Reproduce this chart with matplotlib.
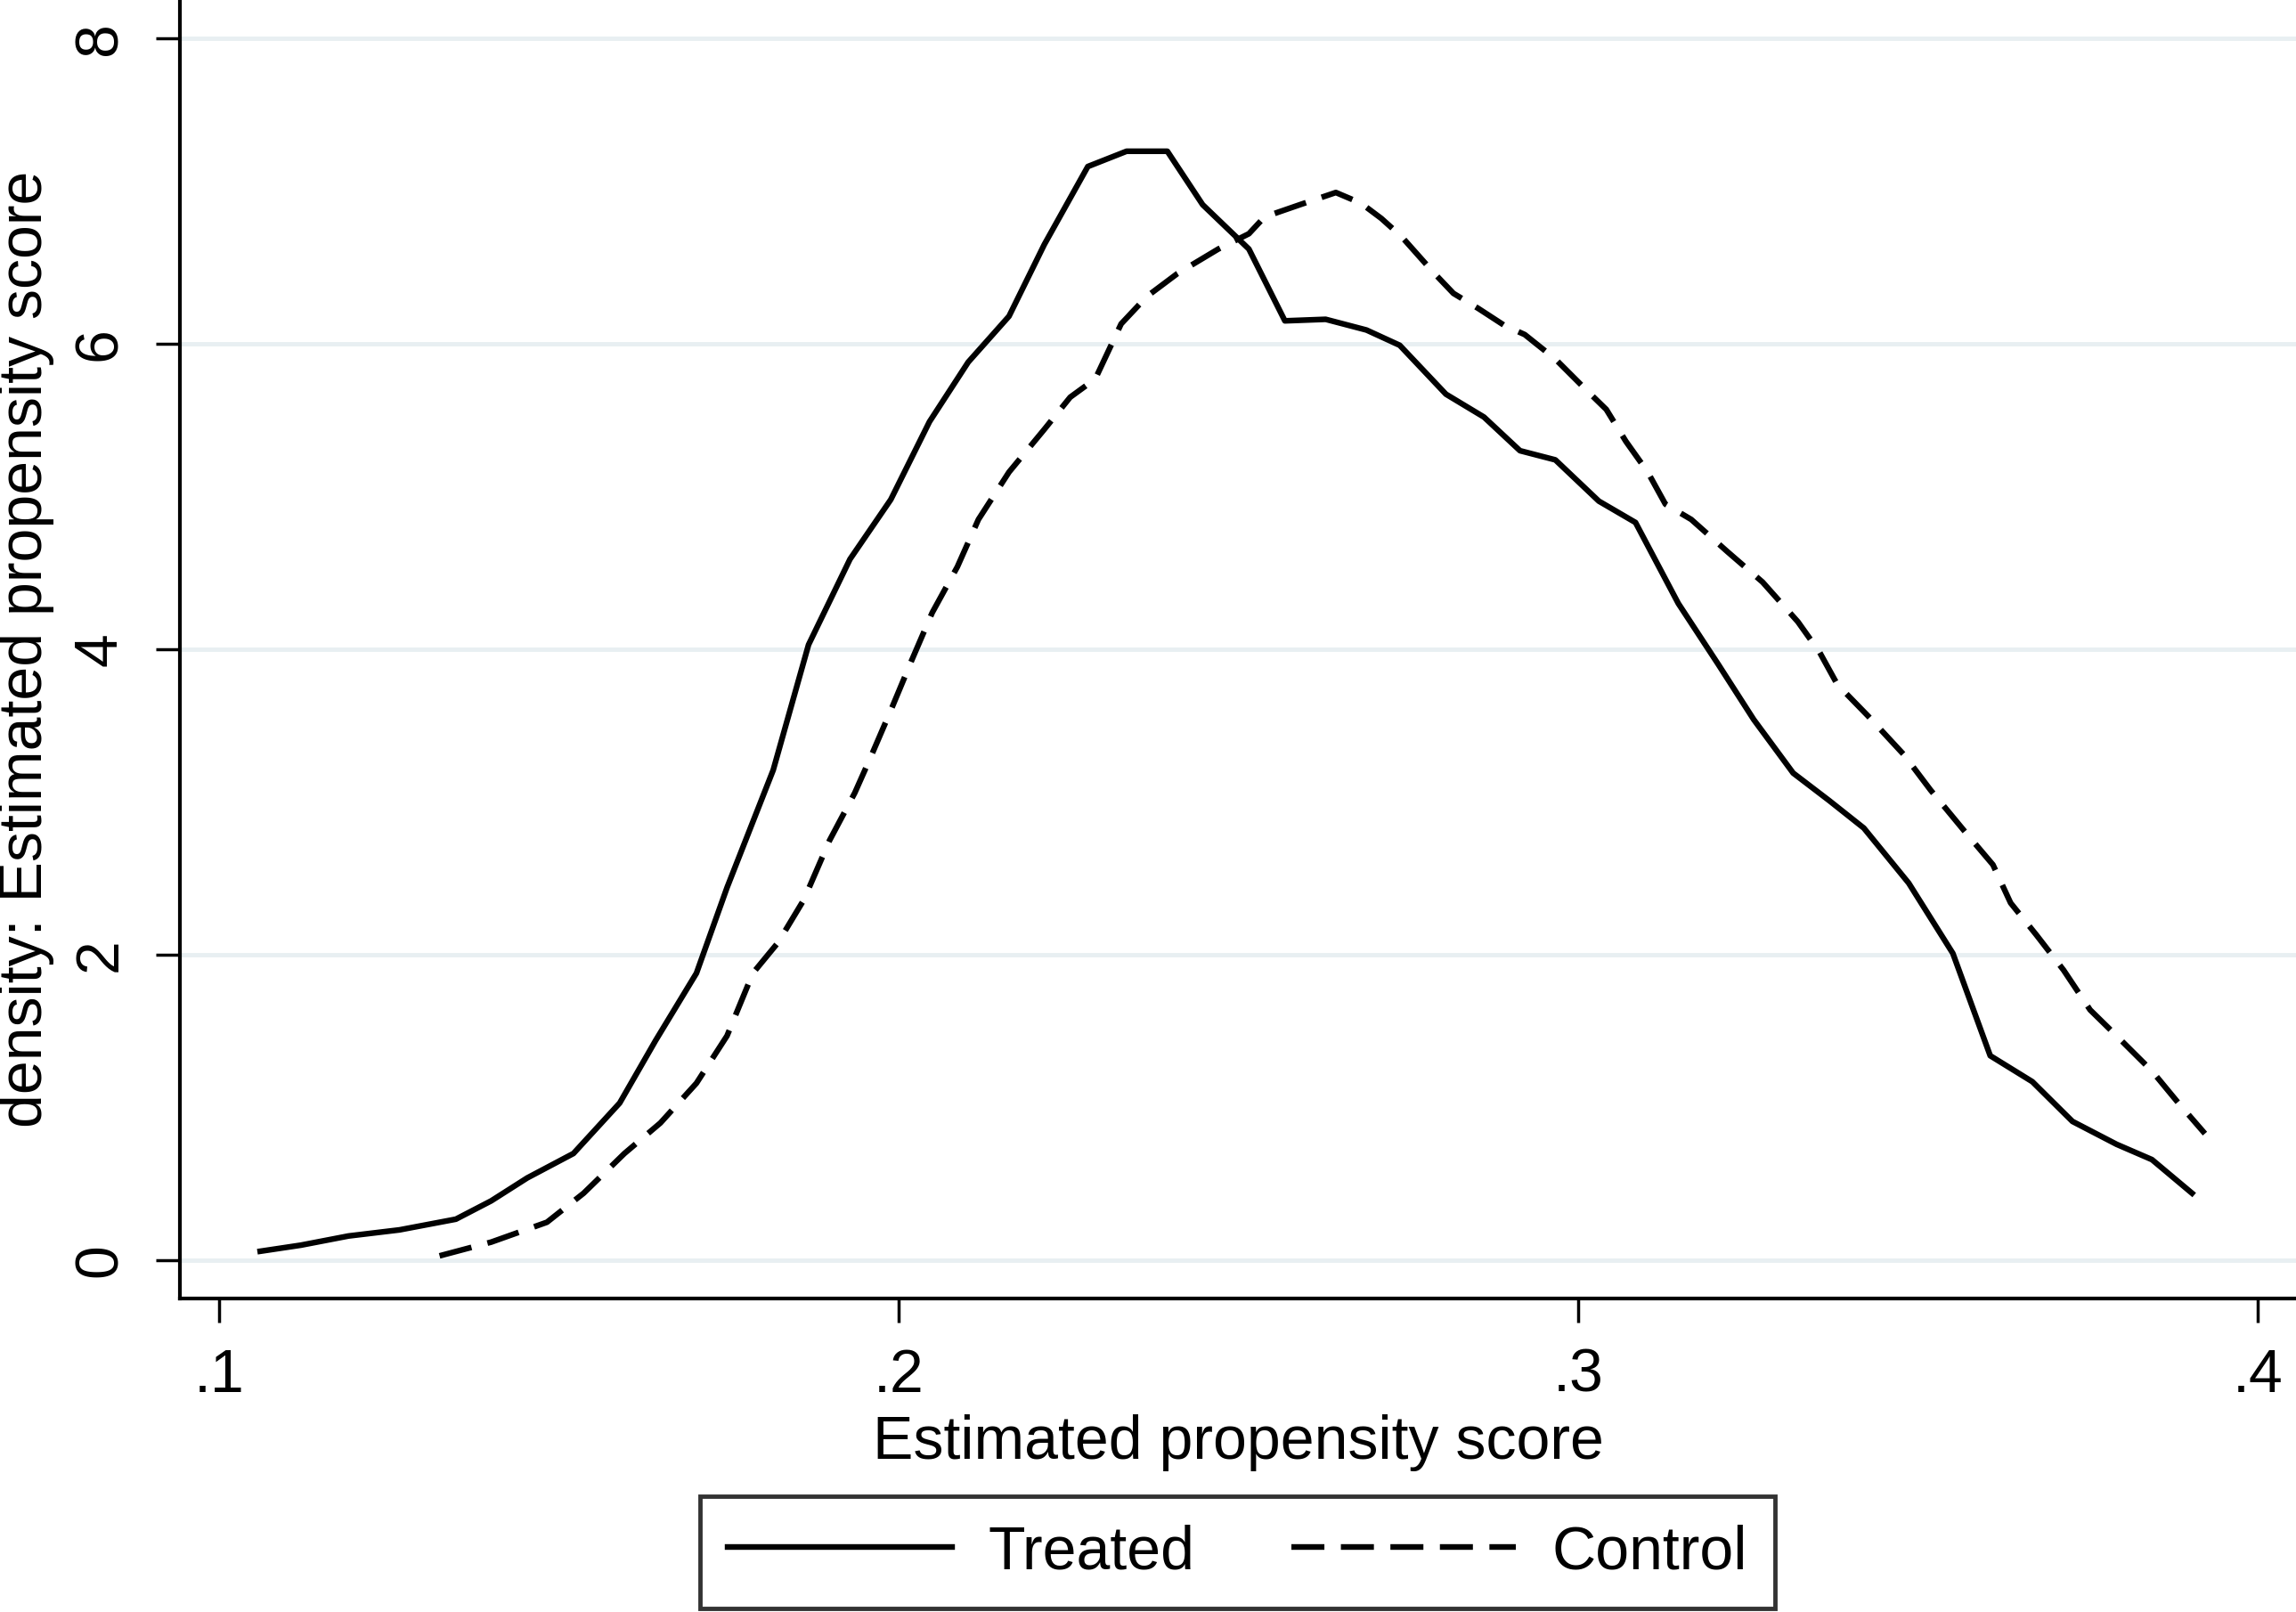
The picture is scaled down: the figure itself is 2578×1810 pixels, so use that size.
import matplotlib
matplotlib.use('Agg')
import matplotlib.pyplot as plt

plt.rcParams['font.family'] = ['Liberation Sans', 'DejaVu Sans']

# kernel density of the estimated propensity score
treated_x = [0.106, 0.112, 0.119, 0.1265, 0.1348, 0.140, 0.1453, 0.1521, 0.1589, 0.1642,
             0.1702, 0.1747, 0.1815, 0.1867, 0.1928, 0.1988, 0.2045, 0.2102, 0.2162, 0.2214,
             0.2278, 0.2335, 0.2395, 0.2447, 0.2515, 0.2568, 0.2628, 0.2688, 0.2737, 0.2805,
             0.2861, 0.2914, 0.2966, 0.3030, 0.3084, 0.3147, 0.3206, 0.3258, 0.3316, 0.3369,
             0.3420, 0.3486, 0.3551, 0.3606, 0.3668, 0.3727, 0.3792, 0.3844, 0.3903]
treated_y = [0.06, 0.10, 0.16, 0.20, 0.27, 0.39, 0.54, 0.70, 1.03, 1.44,
             1.88, 2.44, 3.21, 4.03, 4.59, 4.98, 5.49, 5.88, 6.18, 6.65,
             7.16, 7.26, 7.26, 6.91, 6.62, 6.15, 6.16, 6.09, 5.99, 5.67,
             5.52, 5.30, 5.24, 4.97, 4.83, 4.30, 3.90, 3.54, 3.19, 3.01,
             2.83, 2.47, 2.01, 1.34, 1.17, 0.91, 0.76, 0.66, 0.44]

control_x = [0.1324, 0.140, 0.1482, 0.1536, 0.1596, 0.1649, 0.1702, 0.1747, 0.1785, 0.1822,
             0.186, 0.1898, 0.1935, 0.1958, 0.1988, 0.2019, 0.2049, 0.2086, 0.2117, 0.2162,
             0.2214, 0.2252, 0.2289, 0.2327, 0.2365, 0.241, 0.247, 0.2515, 0.2538, 0.259,
             0.2643, 0.268, 0.271, 0.274, 0.2786, 0.2816, 0.2853, 0.2891, 0.2921, 0.2966,
             0.3011, 0.3041, 0.3070, 0.3102, 0.3128, 0.3166, 0.3219, 0.3271, 0.3323, 0.3355,
             0.3381, 0.3427, 0.3479, 0.3518, 0.357, 0.361, 0.3636, 0.3674, 0.3714, 0.3753,
             0.3792, 0.3844, 0.3883, 0.3922]
control_y = [0.03, 0.12, 0.25, 0.44, 0.70, 0.90, 1.16, 1.47, 1.88, 2.08,
             2.36, 2.75, 3.06, 3.29, 3.60, 3.93, 4.24, 4.54, 4.85, 5.16,
             5.44, 5.65, 5.77, 6.13, 6.31, 6.46, 6.62, 6.72, 6.83, 6.91,
             6.99, 6.92, 6.82, 6.70, 6.47, 6.33, 6.23, 6.12, 6.06, 5.90,
             5.70, 5.57, 5.36, 5.16, 4.95, 4.85, 4.64, 4.44, 4.18, 3.98,
             3.77, 3.56, 3.31, 3.08, 2.80, 2.59, 2.34, 2.13, 1.90, 1.64,
             1.47, 1.24, 1.03, 0.83]

xticks = [0.1, 0.2, 0.3, 0.4]
xtick_labels = ['.1', '.2', '.3', '.4']
yticks = [0, 2, 4, 6, 8]

fig = plt.figure(figsize=(25.78, 18.10), dpi=100)
ax = fig.add_axes([0.0784, 0.1944, 0.9216, 0.8056])

for y in yticks:
    ax.axhline(y, color='#e8eff2', lw=3.5, zorder=0)

ax.plot(treated_x, treated_y, color='black', lw=4.6, label='Treated')
ax.plot(control_x, control_y, color='black', lw=4.6, linestyle=(0, (5.8, 2.9)),
        label='Control')

ax.set_xlim(0.0942, 0.4056)
ax.set_ylim(-0.25, 8.25)
ax.set_xticks(xticks)
ax.set_xticklabels(xtick_labels)
ax.set_yticks(yticks)
ax.set_yticklabels([str(v) for v in yticks], rotation=90, va='center')

for s in ['top', 'right']:
    ax.spines[s].set_visible(False)
for s in ['left', 'bottom']:
    ax.spines[s].set_linewidth(3)
ax.tick_params(axis='both', direction='out', length=19.5, width=2.5,
               labelsize=49, color='black')
ax.tick_params(axis='x', pad=20)
ax.tick_params(axis='y', pad=22)

ax.set_xlabel('Estimated propensity score', fontsize=49, labelpad=8)
ax.set_ylabel('density: Estimated propensity score', fontsize=49, labelpad=14)

leg = fig.legend(loc='center', bbox_to_anchor=(0.539, 0.037), ncol=2,
                 fontsize=49, frameon=True, fancybox=False, handlelength=3.7,
                 handletextpad=0.6, columnspacing=1.6, borderpad=0.45)
leg.get_frame().set_edgecolor('black')
leg.get_frame().set_linewidth(3.5)

fig.savefig('out.png', dpi=100)
